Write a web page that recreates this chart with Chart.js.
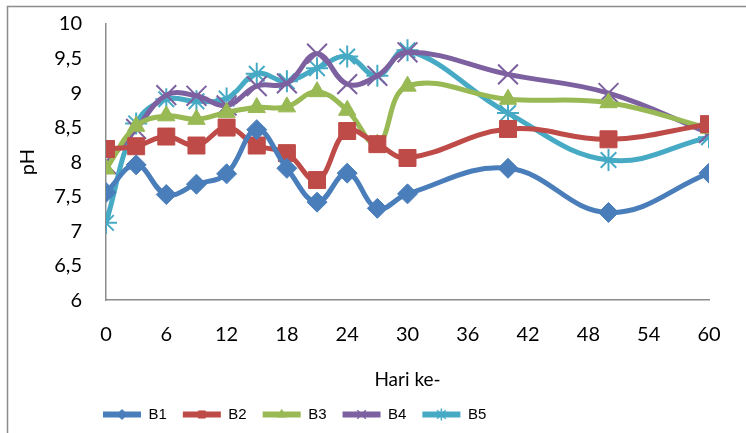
<!DOCTYPE html>
<html>
<head>
<meta charset="utf-8">
<script src="https://cdn.jsdelivr.net/npm/chart.js@4/dist/chart.umd.min.js"></script>
<style>
  body { margin: 0; background: #fff; }
</style>
</head>
<body>
<canvas id="phChart" width="746" height="433"></canvas>
<script>
const days = [0, 3, 6, 9, 12, 15, 18, 21, 24, 27, 30, 40, 50, 60];
const b1 = [7.56, 7.96, 7.53, 7.68, 7.83, 8.47, 7.91, 7.42, 7.84, 7.33, 7.54, 7.91, 7.27, 7.84];
const b2 = [8.19, 8.23, 8.37, 8.24, 8.5, 8.24, 8.13, 7.74, 8.45, 8.26, 8.06, 8.48, 8.33, 8.55];
const b3 = [7.9, 8.52, 8.67, 8.62, 8.72, 8.79, 8.8, 9.02, 8.75, 8.26, 9.1, 8.91, 8.86, 8.49];
const b4 = [7.97, 8.48, 8.97, 8.96, 8.82, 9.1, 9.14, 9.57, 9.13, 9.25, 9.59, 9.27, 9.0, 8.42];
const b5 = [7.12, 8.56, 8.91, 8.88, 8.92, 9.28, 9.17, 9.36, 9.53, 9.25, 9.62, 8.71, 8.03, 8.36];

const seriesNames = ["B1", "B2", "B3", "B4", "B5"];
const seriesValues = [b1, b2, b3, b4, b5];
const colors = ["#4a7ebb", "#be4b48", "#98b954", "#7d60a0", "#46aac5"];
const markers = ["rectRot", "rect", "triangle", "crossRot", "star"];
const markerSizes = [10, 12, 10, 14, 11];

const toPoints = (vals) => vals.map((v, i) => ({ x: days[i], y: v }));

// grey frame like the exported Excel chart, legend nudged left,
// small markers on the legend lines
const framePlugin = {
  id: "frame",
  beforeDraw(chart) {
    const ctx = chart.ctx;
    ctx.save();
    ctx.fillStyle = "#fff";
    ctx.fillRect(0, 0, chart.width, chart.height);
    ctx.strokeStyle = "#8c8c8c";
    ctx.lineWidth = 1.5;
    ctx.strokeRect(7.5, 6.5, chart.width + 20, chart.height + 20);
    ctx.restore();
  },
  afterLayout(chart) {
    if (chart.legend) {
      chart.legend.left = 87;
    }
  },
  afterDraw(chart) {
    const legend = chart.legend;
    if (!legend || !legend.legendHitBoxes) return;
    const ctx = chart.ctx;
    legend.legendHitBoxes.forEach((box, i) => {
      ctx.save();
      ctx.fillStyle = colors[i];
      ctx.strokeStyle = colors[i];
      ctx.lineWidth = i >= 3 ? 1.5 : 1;
      Chart.helpers.drawPoint(
        ctx,
        { pointStyle: markers[i], radius: i >= 3 ? 6 : 5, rotation: 0, borderWidth: 1 },
        box.left + 19,
        box.top + box.height / 2
      );
      ctx.restore();
    });
  },
};

const ctx = document.querySelector("#phChart").getContext("2d");

const phChart = new Chart(ctx, {
  type: "line",
  data: {
    datasets: seriesNames.map((name, i) => ({
      label: name,
      data: toPoints(seriesValues[i]),
      borderColor: colors[i],
      backgroundColor: colors[i],
      borderWidth: 5,
      tension: 0.4,
      pointStyle: markers[i],
      pointRadius: markerSizes[i],
      pointBorderWidth: i >= 3 ? 2 : 1,
      pointBorderColor: colors[i],
      pointBackgroundColor: colors[i],
    })),
  },
  options: {
    responsive: false,
    animation: false,
    layout: {
      padding: { top: 24, right: 37, left: 8, bottom: 1 },
    },
    plugins: {
      legend: {
        position: "bottom",
        align: "start",
        labels: {
          color: "#000",
          font: { family: "Liberation Sans", size: 15 },
          boxWidth: 38,
          boxHeight: 6,
          padding: 16,
          generateLabels(chart) {
            return chart.data.datasets.map((ds, i) => ({
              text: ds.label,
              fillStyle: ds.borderColor,
              strokeStyle: ds.borderColor,
              lineWidth: 0,
              datasetIndex: i,
            }));
          },
        },
      },
      tooltip: { enabled: false },
    },
    scales: {
      x: {
        type: "linear",
        min: 0,
        max: 60,
        grid: { display: false, drawTicks: false },
        border: { display: true, color: "#8c8c8c", width: 1.5 },
        ticks: {
          stepSize: 6,
          padding: 22,
          color: "#000",
          font: { family: "Lato", size: 20 },
        },
        title: {
          display: true,
          text: "Hari ke-",
          color: "#000",
          font: { family: "Lato", size: 19 },
          padding: { top: 0, bottom: 0 },
        },
      },
      y: {
        min: 6,
        max: 10,
        grid: { display: false, drawTicks: false },
        border: { display: true, color: "#8c8c8c", width: 1.5 },
        ticks: {
          stepSize: 0.5,
          padding: 24,
          color: "#000",
          font: { family: "Lato", size: 20 },
          callback: (v) => String(v).replace(".", ","),
        },
        title: {
          display: true,
          text: "pH",
          color: "#000",
          font: { family: "Lato", size: 20 },
          padding: { top: 8, bottom: 8 },
        },
        afterFit(scale) {
          scale.width = 98;
          scale.paddingTop = 0;
          scale.paddingBottom = 0;
        },
      },
    },
  },
  plugins: [framePlugin],
});
</script>
</body>
</html>
